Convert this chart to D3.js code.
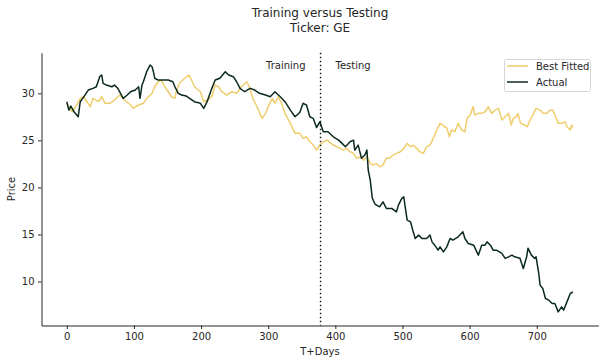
<!DOCTYPE html>
<html><head><meta charset="utf-8">
<script src="https://cdn.jsdelivr.net/npm/d3@7"></script>
<style>body{margin:0;background:#fff} svg{display:block;font-family:"DejaVu Sans",sans-serif}</style>
</head><body><svg id="c" width="609" height="363"></svg>
<script>
const titleLines = ["Training versus Testing", "Ticker: GE"];
const seriesNames = ["Best Fitted", "Actual"];
const xTicks = [0, 100, 200, 300, 400, 500, 600, 700];
const yTicks = [10, 15, 20, 25, 30];
const splitDay = 378;
const phaseLabels = ["Training", "Testing"];

const actualDays = [0,3,6,11,17,20,26,32,39,44,49,52,54,59,67,71,76,84,90,95,102,107,109,112,114,119,124,127,129,131,136,144,151,158,161,166,171,178,183,190,199,204,209,216,221,228,236,241,248,253,258,265,273,280,287,296,303,310,318,325,333,340,347,352,357,362,367,372,377,382,389,397,405,410,415,422,427,429,434,439,444,447,449,452,455,459,466,471,476,484,491,494,499,502,504,507,512,516,519,524,529,536,541,544,548,553,556,561,566,571,575,583,590,593,598,606,613,618,623,626,631,635,640,648,653,658,663,667,675,680,685,687,692,697,699,703,705,709,713,718,723,727,732,737,740,745,750,754];
const actualPrice = [29.11,28.22,28.65,28.01,27.51,29.11,29.71,30.35,30.53,30.70,31.77,31.95,31.06,30.88,30.70,30.88,30.53,29.47,29.82,30.17,30.35,30.70,29.47,30.88,31.23,32.30,33.01,32.83,32.30,31.60,31.41,31.41,31.41,31.23,30.70,30.00,29.82,29.71,29.47,29.11,28.94,28.40,29.11,30.53,31.41,31.60,32.30,31.95,31.77,31.23,30.53,30.17,30.53,30.35,30.00,29.82,29.64,30.17,29.64,29.11,28.22,27.51,27.96,28.94,28.76,27.51,27.34,26.36,26.98,25.91,25.91,25.38,25.03,24.68,24.32,24.85,25.03,23.97,24.50,23.09,23.44,23.97,21.84,20.78,18.87,18.23,17.94,18.47,17.77,17.77,17.40,18.12,18.83,19.00,17.94,16.52,16.34,15.28,14.57,14.93,14.57,14.57,14.93,14.21,13.86,13.33,13.68,13.15,13.68,14.57,14.39,14.75,15.28,14.57,14.04,13.86,12.80,13.86,13.86,14.21,13.86,13.33,13.33,12.98,12.45,12.62,12.80,12.62,12.48,11.38,12.62,13.54,12.80,12.45,12.62,10.85,9.61,9.26,8.19,8.01,7.66,7.66,6.77,7.30,6.95,7.83,8.72,8.89];

const fittedDays = [0,4,8,15,20,25,30,35,39,47,52,57,64,71,79,86,95,99,107,114,119,127,131,136,141,146,151,156,161,163,168,176,182,187,190,199,204,209,216,221,226,231,238,246,253,260,268,273,277,282,291,296,301,306,310,315,320,325,333,340,347,352,357,362,367,372,377,382,388,393,397,402,407,412,417,422,427,432,437,442,447,452,456,461,466,471,476,481,486,491,497,502,507,512,516,521,526,531,536,541,546,551,556,561,566,570,573,578,583,588,593,596,601,605,608,613,618,623,628,633,638,643,648,653,658,662,665,670,672,676,682,686,690,694,699,705,710,715,720,724,727,732,737,742,745,750,752,754];
const fittedPrice = [28.94,28.44,28.04,28.76,29.47,29.64,29.11,28.57,29.47,29.11,29.64,28.94,28.94,29.29,29.82,29.29,28.76,28.40,28.76,28.94,29.47,30.00,30.70,31.23,31.41,30.70,30.17,29.64,29.47,30.17,31.10,31.63,31.95,31.23,30.70,30.17,29.11,29.29,29.64,30.88,30.70,30.17,29.82,30.17,30.00,30.70,31.23,30.53,29.47,28.76,27.34,27.87,28.76,29.47,28.94,29.64,28.94,27.87,26.81,25.74,25.78,25.21,25.38,24.85,24.50,23.97,24.50,24.85,25.03,24.71,24.50,24.32,24.15,23.97,24.15,23.79,23.62,23.09,23.26,22.90,23.26,22.55,22.37,22.55,22.19,22.37,23.12,23.09,23.44,23.62,23.79,24.15,24.68,24.32,24.50,24.15,23.79,23.62,24.32,24.50,25.24,26.10,26.81,26.57,26.31,25.38,26.10,25.91,26.81,26.10,25.91,27.34,27.69,28.57,27.69,27.87,27.87,28.04,28.57,27.87,28.22,28.40,27.16,27.51,27.87,26.63,27.34,27.51,27.87,26.81,26.63,26.45,27.16,27.69,28.40,28.22,27.87,27.87,28.22,28.22,27.69,26.81,26.81,26.98,26.45,26.10,26.63,26.38];

const colors = ["#f0cd6c", "#0b2a1e"];
const textColor = "#262626";

const svg = d3.select("#c");
const x = d3.scaleLinear().domain([-37.7, 791.7]).range([41.5, 598.3]);
const y = d3.scaleLinear().domain([5.32, 34.32]).range([325.5, 52.7]);

// title
svg.append("text").attr("x", 320).attr("y", 17).attr("text-anchor", "middle")
  .attr("font-size", 12).attr("fill", textColor).text(titleLines[0]);
svg.append("text").attr("x", 320).attr("y", 32).attr("text-anchor", "middle")
  .attr("font-size", 12).attr("fill", textColor).text(titleLines[1]);

// axes
const xAxis = svg.append("g").attr("transform", "translate(0,325.5)")
  .call(d3.axisBottom(x).tickValues(xTicks).tickSize(3.5).tickSizeOuter(0).tickPadding(3.5));
const yAxis = svg.append("g").attr("transform", "translate(41.5,0)")
  .call(d3.axisLeft(y).tickValues(yTicks).tickSize(3.5).tickSizeOuter(0).tickPadding(3.5));
[xAxis, yAxis].forEach(g => {
  g.selectAll("path.domain").attr("stroke", "#262626").attr("stroke-width", 1);
  g.selectAll(".tick line").attr("stroke", "#262626").attr("stroke-width", 1);
  g.selectAll(".tick text").attr("font-size", 10).attr("fill", textColor)
    .attr("font-family", '"DejaVu Sans",sans-serif');
});

svg.append("text").attr("x", 320).attr("y", 355).attr("text-anchor", "middle")
  .attr("font-size", 10).attr("fill", textColor).text("T+Days");
svg.append("text").attr("transform", "translate(15,189) rotate(-90)").attr("text-anchor", "middle")
  .attr("font-size", 10).attr("fill", textColor).text("Price");

// lines
const line = d3.line().x(d => x(d[0])).y(d => y(d[1]));
const fitted = fittedDays.map((d, i) => [d, fittedPrice[i]]);
const actual = actualDays.map((d, i) => [d, actualPrice[i]]);
svg.append("path").datum(fitted).attr("d", line).attr("fill", "none")
  .attr("stroke", colors[0]).attr("stroke-width", 1.5).attr("stroke-linejoin", "round");
svg.append("path").datum(actual).attr("d", line).attr("fill", "none")
  .attr("stroke", colors[1]).attr("stroke-width", 1.5).attr("stroke-linejoin", "round");

// split line
svg.append("line").attr("x1", x(splitDay)).attr("x2", x(splitDay)).attr("y1", 52.7).attr("y2", 325.5)
  .attr("stroke", "#1a1a1a").attr("stroke-width", 1.5).attr("stroke-dasharray", "1.5,2.5");
svg.append("text").attr("x", x(splitDay) - 15).attr("y", 69).attr("text-anchor", "end")
  .attr("font-size", 10).attr("fill", textColor).text(phaseLabels[0]);
svg.append("text").attr("x", x(splitDay) + 15).attr("y", 69).attr("text-anchor", "start")
  .attr("font-size", 10).attr("fill", textColor).text(phaseLabels[1]);

// legend
const lg = svg.append("g");
lg.append("rect").attr("x", 504.5).attr("y", 59.5).attr("width", 86).attr("height", 32)
  .attr("rx", 2).attr("fill", "#fff").attr("fill-opacity", 0.8).attr("stroke", "#d6d6d6").attr("stroke-width", 1);
seriesNames.forEach((n, i) => {
  const yy = 66 + i * 16;
  lg.append("line").attr("x1", 507).attr("x2", 528).attr("y1", yy).attr("y2", yy)
    .attr("stroke", colors[i]).attr("stroke-width", 1.5);
  lg.append("text").attr("x", 536).attr("y", yy + 3.6).attr("font-size", 10)
    .attr("fill", textColor).text(n);
});
</script></body></html>
